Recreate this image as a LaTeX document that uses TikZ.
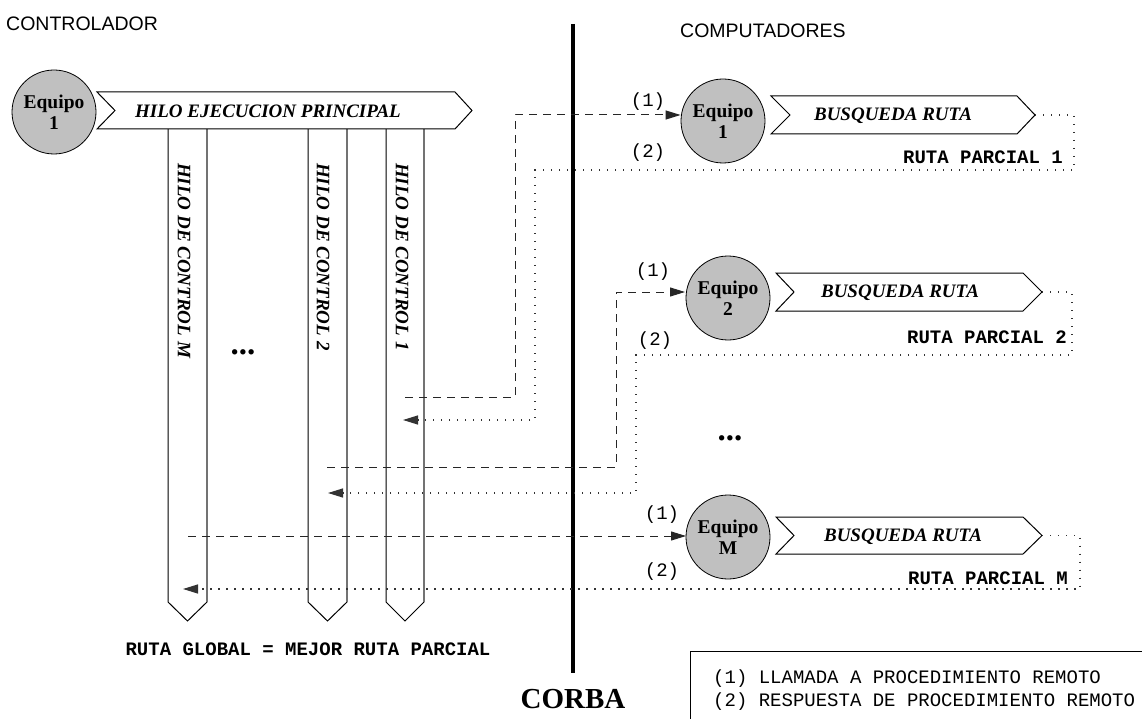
\documentclass[tikz,border=0pt]{standalone}
\usepackage{fontspec}
\setmainfont{Liberation Serif}
\setsansfont{Liberation Sans}
\setmonofont{Liberation Mono}
\usetikzlibrary{arrows.meta}
\definecolor{eqgray}{RGB}{192,192,192}
\begin{document}
\begin{tikzpicture}[x=1pt,y=-1pt,
  every node/.style={inner sep=0pt},
  shapeline/.style={draw=black, line width=1pt, fill=white, line join=miter},
  edgegray/.style={draw=black!55, line width=1.3pt},
  equipo/.style={circle, draw=black, line width=0.8pt, fill=eqgray, minimum size=84pt,
     font=\fontsize{19.5}{21}\selectfont\bfseries, align=center},
  bi/.style={font=\fontsize{19}{21}\selectfont\bfseries\itshape},
  vtext/.style={font=\fontsize{19}{21}\selectfont\bfseries\itshape, rotate=-90, anchor=west},
  lab/.style={font=\ttfamily\fontsize{19}{21}\selectfont},
  rp/.style={font=\ttfamily\bfseries\fontsize{19}{21}\selectfont, anchor=east},
  title/.style={font=\sffamily\fontsize{19.5}{21}\selectfont, anchor=west},
  dots/.style={font=\fontsize{33}{35}\selectfont\bfseries},
  call/.style={draw=black!85, line width=1pt, dash pattern=on 8pt off 6pt,
     -{Triangle[length=15pt,width=9pt]}},
  reply/.style={draw=black!80, line width=1.2pt, dash pattern=on 1.2pt off 6.8pt,
     -{Triangle[length=15pt,width=9pt]}}
]
\useasboundingbox (0,0) rectangle (1142,719);

% titles
\node[title] (tctl) at (6,24) {CONTROLADOR};
\node[title] (tcomp) at (680,31) {COMPUTADORES};

% CORBA line
\coordinate (ctop) at (573,24);
\coordinate (cbot) at (573,673);
\draw[line width=4pt] (ctop) -- (cbot);
\node[font=\fontsize{29}{31}\selectfont\bfseries] (corba) at (573,699) {CORBA};

% vertical control threads
\foreach \xl/\xr/\n in {168/207/VM, 308/347/V2, 386/424/V1}{
  \draw[shapeline] (\xl,129) -- (\xl,602) -- ({(\xl+\xr)/2},621) -- (\xr,602) -- (\xr,129);
  \draw[edgegray] (\xr,129) -- (\xr,602);
  \coordinate (\n) at ({(\xl+\xr)/2},129);
}
\node[vtext] (tVM) at (184,163) {HILO DE CONTROL M};
\node[vtext] (tV2) at (323,163) {HILO DE CONTROL 2};
\node[vtext] (tV1) at (402,163) {HILO DE CONTROL 1};
\node[dots] (dl) at (243,352) {...};

% main thread
\draw[shapeline] (97,92) -- (455,92) -- (472,110.5) -- (455,129) -- (97,129) -- (115,110.5) -- cycle;
\node[bi] (tmain) at (268,111) {HILO EJECUCION PRINCIPAL};
\node[equipo] (E0) at (54,112) {Equipo\\1};

% right side search arrows
\draw[shapeline] (771,96) -- (1017,96) -- (1035,115) -- (1017,134) -- (771,134) -- (790,115) -- cycle;
\coordinate (A1) at (1035,115);
\draw[shapeline] (776,273) -- (1023,273) -- (1042,292) -- (1023,311) -- (776,311) -- (794,292) -- cycle;
\coordinate (A2) at (1042,292);
\draw[shapeline] (776,517) -- (1023,517) -- (1042,535.5) -- (1023,554) -- (776,554) -- (794,535.5) -- cycle;
\coordinate (AM) at (1042,535.5);
\node[bi] (b1) at (893,116) {BUSQUEDA RUTA};
\node[bi] (b2) at (900,293) {BUSQUEDA RUTA};
\node[bi] (bM) at (903,537) {BUSQUEDA RUTA};

\node[equipo] (E1) at (723,121) {Equipo\\1};
\node[equipo] (E2) at (728,298) {Equipo\\2};
\node[equipo] (EM) at (728,537) {Equipo\\M};
\node[dots] (dr) at (730,438) {...};

% route 1
\coordinate (c1s) at (405,397);
\coordinate (c1k) at (515,115);
\draw[call] (c1s) -| (c1k) -- (c1k -| E1.west);
\coordinate (r1a) at (1074,170);
\coordinate (r1b) at (535,420);
\coordinate (r1e) at (403,420);
\draw[reply] (A1) -| (r1a) -| (r1b) -- (r1e);
% route 2
\coordinate (c2s) at (327,467);
\coordinate (c2k) at (616,292);
\draw[call] (c2s) -| (c2k) -- (685,292);
\coordinate (r2a) at (1072,355);
\coordinate (r2b) at (636,493);
\coordinate (r2e) at (328,493);
\draw[reply] (A2) -| (r2a) -| (r2b) -- (r2e);
% route M
\coordinate (cMs) at (188,536);
\draw[call] (cMs) -- (686,536);
\coordinate (rMa) at (1080,589);
\coordinate (rMe) at (183,589);
\draw[reply] (AM) -| (rMa) -- (rMe);

% labels
\node[lab] (l11) at (648,102) {(1)};
\node[lab] (l12) at (648,153) {(2)};
\node[lab] (l21) at (653,272) {(1)};
\node[lab] (l22) at (655,341) {(2)};
\node[lab] (lM1) at (662,515) {(1)};
\node[lab] (lM2) at (662,572) {(2)};
\node[rp] (p1) at (1063,157) {RUTA PARCIAL 1};
\node[rp] (p2) at (1067,337) {RUTA PARCIAL 2};
\node[rp] (pM) at (1068,578) {RUTA PARCIAL M};
\node[font=\ttfamily\bfseries\fontsize{19}{21}\selectfont] (glob) at (308,649) {RUTA GLOBAL = MEJOR RUTA PARCIAL};

% legend
\draw[line width=0.8pt] (1142,651) -- (690,651) -- (690,719);
\node[lab, anchor=west] (leg1) at (713,679) {(1) LLAMADA A PROCEDIMIENTO REMOTO};
\node[lab, anchor=west] (leg2) at (713,702) {(2) RESPUESTA DE PROCEDIMIENTO REMOTO};
\end{tikzpicture}
\end{document}
